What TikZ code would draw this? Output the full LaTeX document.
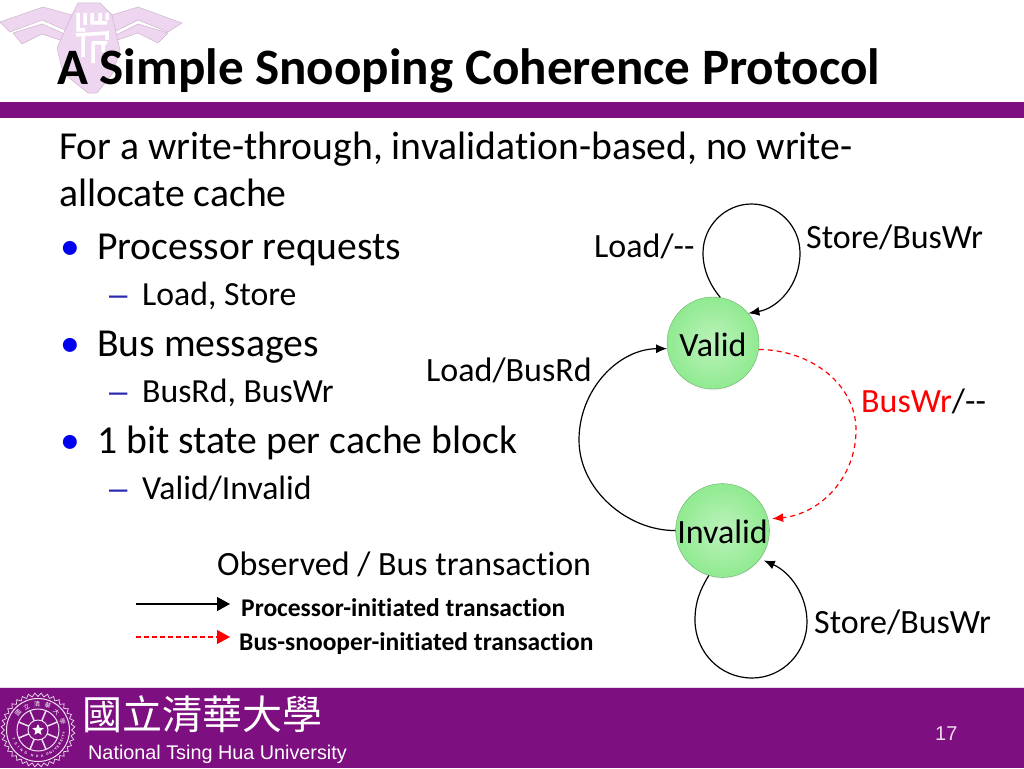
\documentclass[tikz,border=0pt]{standalone}
\usepackage{fontspec}
\setmainfont{Carlito}[Ligatures=NoCommon]
\newfontfamily\cjk{Noto Sans CJK TC}
\newfontfamily\arial{Liberation Sans}
\usetikzlibrary{calc}
\usetikzlibrary{arrows.meta,shadows,fadings,shapes.geometric}
\definecolor{bandpurple}{HTML}{7E0F80}
\definecolor{logopink}{HTML}{EFD6F0}
\definecolor{bulletblue}{HTML}{0000F0}
\definecolor{dashblue}{HTML}{2B2BB0}
\definecolor{ballgreen}{HTML}{90EA90}
\newcommand{\fsz}[1]{\fontsize{#1}{#1}\selectfont}
\tikzset{
  txt/.style={anchor=base west,inner sep=0pt,text=black,font=\fsz{#1}},
  dot/.style={anchor=base west,inner sep=0pt,text=bulletblue,font=\fsz{39.5}},
  subdash/.style={anchor=base west,inner sep=0pt,text=dashblue,font=\fsz{33}\arial},
  ball/.style={circle,minimum size=92pt,inner sep=0pt,draw=ballgreen!75!black,line width=.4pt,
    inner color=ballgreen!60!white,outer color=ballgreen,text height=26pt,text depth=0pt,
    circular drop shadow={shadow xshift=0pt,shadow yshift=-2pt,shadow scale=1.0,opacity=.35},
    font=\fsz{34}},
  proc/.style={black,line width=1.2pt,-{Latex[length=11pt,width=9pt]}},
  snoop/.style={red,line width=1.2pt,dash pattern=on 5pt off 4pt,-{Latex[length=11pt,width=9pt]}},
  wing/.style={fill=logopink,draw=logopink!85!black,line width=.5pt},
  sealink/.style={white!88!bandpurple},
}
\begin{document}
\begin{tikzpicture}[x=1pt,y=-1pt]
  \useasboundingbox (0,0) rectangle (1024,768);
  % 校徽水印
  \draw [wing] (0,22) -- (43,7) -- (72,15) -- (72,33) -- (42,20) -- (10,32) -- cycle;
  \draw [wing] (13,33) -- (42,24) -- (72,37) -- (72,44) -- (42,34) -- (22,44) -- cycle;
  \draw [wing] (182,23) -- (138,7) -- (112,15) -- (112,33) -- (138,20) -- (168,32) -- cycle;
  \draw [wing] (168,33) -- (138,24) -- (112,37) -- (112,42) -- (138,33) -- (158,43) -- cycle;
  \draw [wing] (72,15) -- (78,3) -- (100,3) -- (112,15) -- (120,50) -- (113,73) -- (97,93) -- (88,93) -- (63,73) -- (57,48) -- cycle;
  \draw [white,line width=3.5pt] (78,13) -- (78,30) -- (85,30) (85,13) -- (85,25) (92,13) -- (92,23) -- (107,23)
    (100,13) -- (100,23) (107,13) -- (107,20) (76,35) -- (107,33) -- (107,40) (83,33) -- (83,57)
    (92,43) -- (107,43) (93,43) -- (93,63) (103,43) -- (103,52);
  % 紫色横条
  \fill [bandpurple] (0,102) rectangle (1024,118);
  \fill [bandpurple] (0,687) rectangle (1024,768);
  \draw [logopink,line width=.8pt] (0,687) -- (1024,687);
  % 标题
  \node [anchor=base west,inner sep=0pt,font=\fsz{51.1}\bfseries] (title) at (57,84) {A Simple Snooping Coherence Protocol};
  % 正文
  \node [txt=39.65] (intro1) at (59,159.5) {For a write-through, invalidation-based, no write-};
  \node [txt=39.65] (intro2) at (59,206.5) {allocate cache};
  \node [dot] (dot1) at (60,259) {•};
  \node [txt=39.65] (req) at (97,259) {Processor requests};
  \node [subdash] (dash1) at (109,305.5) {–};
  \node [txt=33.75] (reqs) at (142,305) {Load, Store};
  \node [dot] (dot2) at (60,356) {•};
  \node [txt=39.65] (bus) at (97,356) {Bus messages};
  \node [subdash] (dash2) at (109,402.5) {–};
  \node [txt=33.75] (buss) at (142,402) {BusRd, BusWr};
  \node [dot] (dot3) at (60,453) {•};
  \node [txt=39.65] (state) at (97,453) {1 bit state per cache block};
  \node [subdash] (dash3) at (109,499.5) {–};
  \node [txt=33.75] (states) at (142,499) {Valid/Invalid};
  % 状态
  \node [ball] (Valid) at (713,343) {Valid};
  \node [ball] (Invalid) at (722.5,530.5) {Invalid};
  % 状态之间的弧线
  \draw [proc] (Valid.81) .. controls (710,285) and (703,270) .. (703,253)
    .. controls (703,226) and (725,204) .. (751.5,204)
    .. controls (778,204) and (800,226) .. (800,253)
    .. controls (800,285) and (778,308) .. (Valid.40);
  \draw [proc] (Invalid.180) .. controls (628,531) and (579,490) .. (579,440)
    .. controls (579,390) and (618,349) .. (Valid.187);
  \draw [snoop,shorten >=4pt] (Valid.-8) .. controls (812,350) and (856,385) .. (856,430)
    .. controls (856,478) and (820,514) .. (Invalid.14);
  \draw [proc,shorten >=4pt] (Invalid.-107) .. controls (700,590) and (695,602) .. (695,620)
    .. controls (695,652) and (720,678) .. (752,678)
    .. controls (783,678) and (807,652) .. (807,622)
    .. controls (807,595) and (790,572) .. (Invalid.-37);
  % 弧线标签
  \node [txt=34] (load) at (594,257) {Load/-{}-};
  \node [txt=34] (store) at (806,248) {Store/BusWr};
  \node [txt=34] (rd) at (426,381) {Load/BusRd};
  \node [txt=34] (wr) at (861,412) {\textcolor{red}{BusWr}/-{}-};
  \node [txt=34] (store2) at (814,633) {Store/BusWr};
  % 图例
  \node [txt=34] (legend) at (217,575) {Observed / Bus transaction};
  \node [anchor=base west,inner sep=0pt,font=\fsz{25.5}\bfseries] (pi) at (241,616) {Processor-initiated transaction};
  \node [anchor=base west,inner sep=0pt,font=\fsz{25.5}\bfseries] (si) at (239,650) {Bus-snooper-initiated transaction};
  \coordinate (a1) at (136,604);
  \coordinate (a2) at (230,604);
  \coordinate (b1) at (136,637);
  \coordinate (b2) at (230,637);
  \draw [black,line width=1.2pt,-{Triangle[length=13pt,width=14pt]}] (a1) -- (a2);
  \draw [red,line width=1.2pt,dash pattern=on 5pt off 3pt,-{Triangle[length=13pt,width=14pt]}] (b1) -- (b2);
  % 页脚
  \node [anchor=base west,inner sep=0pt,font=\fsz{40}\cjk,text=white] (nthu) at (82,729) {國立清華大學};
  \node [anchor=base west,inner sep=0pt,font=\fsz{19.8}\arial,text=white] (eng) at (88,759) {National Tsing Hua University};
  \node [anchor=base west,inner sep=0pt,font=\fsz{20}\arial,text=white!85!bandpurple] (page) at (935,740) {17};
  % 校印
  \coordinate (seal) at (38,730);
  \foreach \a in {0,10,...,350}
    \draw [sealink,line width=.7pt] ($(seal)+(\a:33.5)$) -- ($(seal)+(\a+5:37)$) -- ($(seal)+(\a+10:33.5)$);
  \draw [sealink,line width=1pt] (seal) circle (31.5) (seal) circle (21) (seal) circle (10);
  \foreach \a in {22.5,67.5,...,337.5}
    \draw [sealink,line width=1.5pt] ($(seal)+(\a:10)$) -- ($(seal)+(\a:21)$);
  \node [star,star points=5,star point ratio=2.2,fill=white,inner sep=0pt,minimum size=12pt] (sealstar) at (seal) {};
  % 校印上的字
  \foreach \ch/\a in {國/140,立/116,清/92,華/68,大/44,學/20}
    \node [font=\fsz{6}\cjk,text=white,inner sep=0pt,rotate=\a-90] at ($(seal)+(-\a:26)$) {\ch};
  \foreach \ch/\a in {T/200,S/212,I/222,N/231,G/242,H/257,U/268,A/279,U/291,N/299,I/306,V/313,E/320,R/327,S/334,I/340,T/346,Y/353}
    \node [font=\fsz{3.5}\arial\bfseries,text=white,inner sep=0pt,rotate=\a+90] at ($(seal)+(-\a:26)$) {\ch};
\end{tikzpicture}
\end{document}
